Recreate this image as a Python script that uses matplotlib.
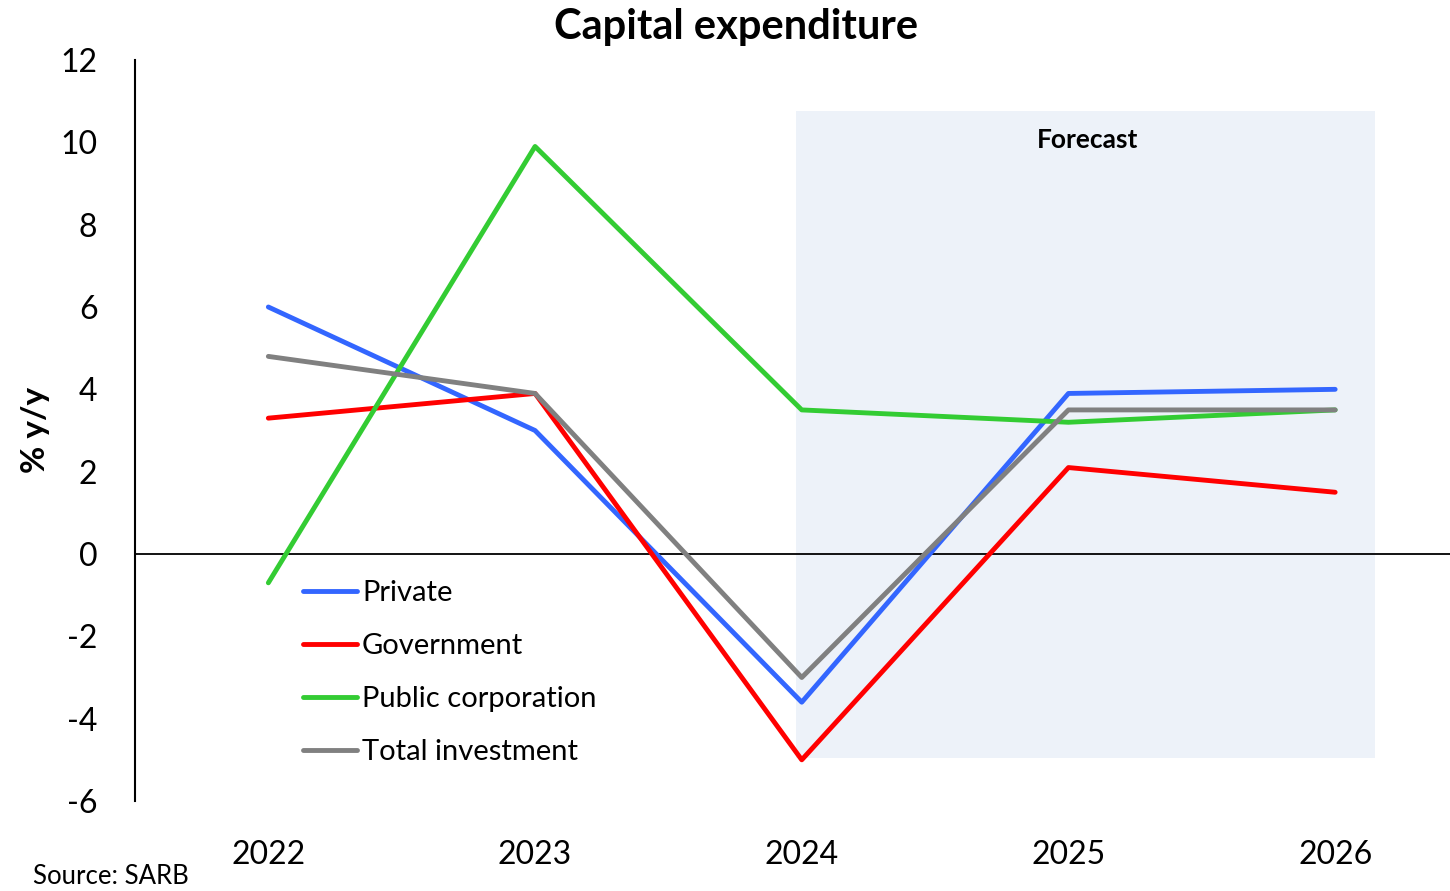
import matplotlib.pyplot as plt
from matplotlib.patches import Rectangle

plt.rcParams['font.family'] = ['Lato', 'DejaVu Sans']
plt.rcParams['axes.unicode_minus'] = False

# capital expenditure growth, % y/y
years = ['2022', '2023', '2024', '2025', '2026']
private = [6.0, 3.0, -3.6, 3.9, 4.0]
government = [3.3, 3.9, -5.0, 2.1, 1.5]
public_corp = [-0.7, 9.9, 3.5, 3.2, 3.5]
total = [4.8, 3.9, -3.0, 3.5, 3.5]

# forecast band (category units / % y/y)
fc_x0, fc_x1 = 1.98, 4.15
fc_y0, fc_y1 = -4.95, 10.75

W, H = 1450, 891
fig = plt.figure(figsize=(W / 100, H / 100), dpi=100)
ax = fig.add_axes([135 / W, 1 - 801 / H, (1468.5 - 135) / W, (801 - 60) / H])

ax.add_patch(Rectangle((fc_x0, fc_y0), fc_x1 - fc_x0, fc_y1 - fc_y0,
                       facecolor='#EDF2F9', edgecolor='none', zorder=0))
ax.text(3.07, 10.05, 'Forecast', fontsize=19, fontweight='bold',
        ha='center', va='center')

x = range(len(years))
lw = 3.5
ax.plot(x, private, color='#3366FF', lw=lw, label='Private', solid_capstyle='round')
ax.plot(x, government, color='#FF0000', lw=lw, label='Government', solid_capstyle='round')
ax.plot(x, public_corp, color='#33CC33', lw=lw, label='Public corporation', solid_capstyle='round')
ax.plot(x, total, color='#808080', lw=lw, label='Total investment', solid_capstyle='round')

ax.axhline(0, color='black', lw=1.3, zorder=1)

ax.set_xlim(-0.5, 4.5)
ax.set_ylim(-6, 12)
ax.set_yticks(range(-6, 13, 2))
ax.set_xticks(list(x))
ax.set_xticklabels(years)
ax.tick_params(axis='y', length=0, labelsize=23, pad=27)
ax.tick_params(axis='x', length=0, labelsize=23, pad=28)
for s in ['top', 'right', 'bottom']:
    ax.spines[s].set_visible(False)
ax.spines['left'].set_linewidth(1.5)

fig.text(35 / W, 1 - 430 / H, '% y/y', rotation=90, fontsize=24,
         fontweight='bold', ha='center', va='center')
fig.text(0.5078, 1 - 27 / H, 'Capital expenditure', fontsize=30,
         fontweight='bold', ha='center', va='center')
fig.text(33 / W, 1 - 877 / H, 'Source: SARB', fontsize=18.5, ha='left', va='center')

leg = ax.legend(loc='upper left', bbox_to_anchor=(303 / W, 1 - 580 / H),
                bbox_transform=fig.transFigure, frameon=False, fontsize=21,
                handlelength=1.85, handletextpad=0.17, labelspacing=0.93,
                borderaxespad=0, borderpad=0)

fig.savefig('out.png', dpi=100)
